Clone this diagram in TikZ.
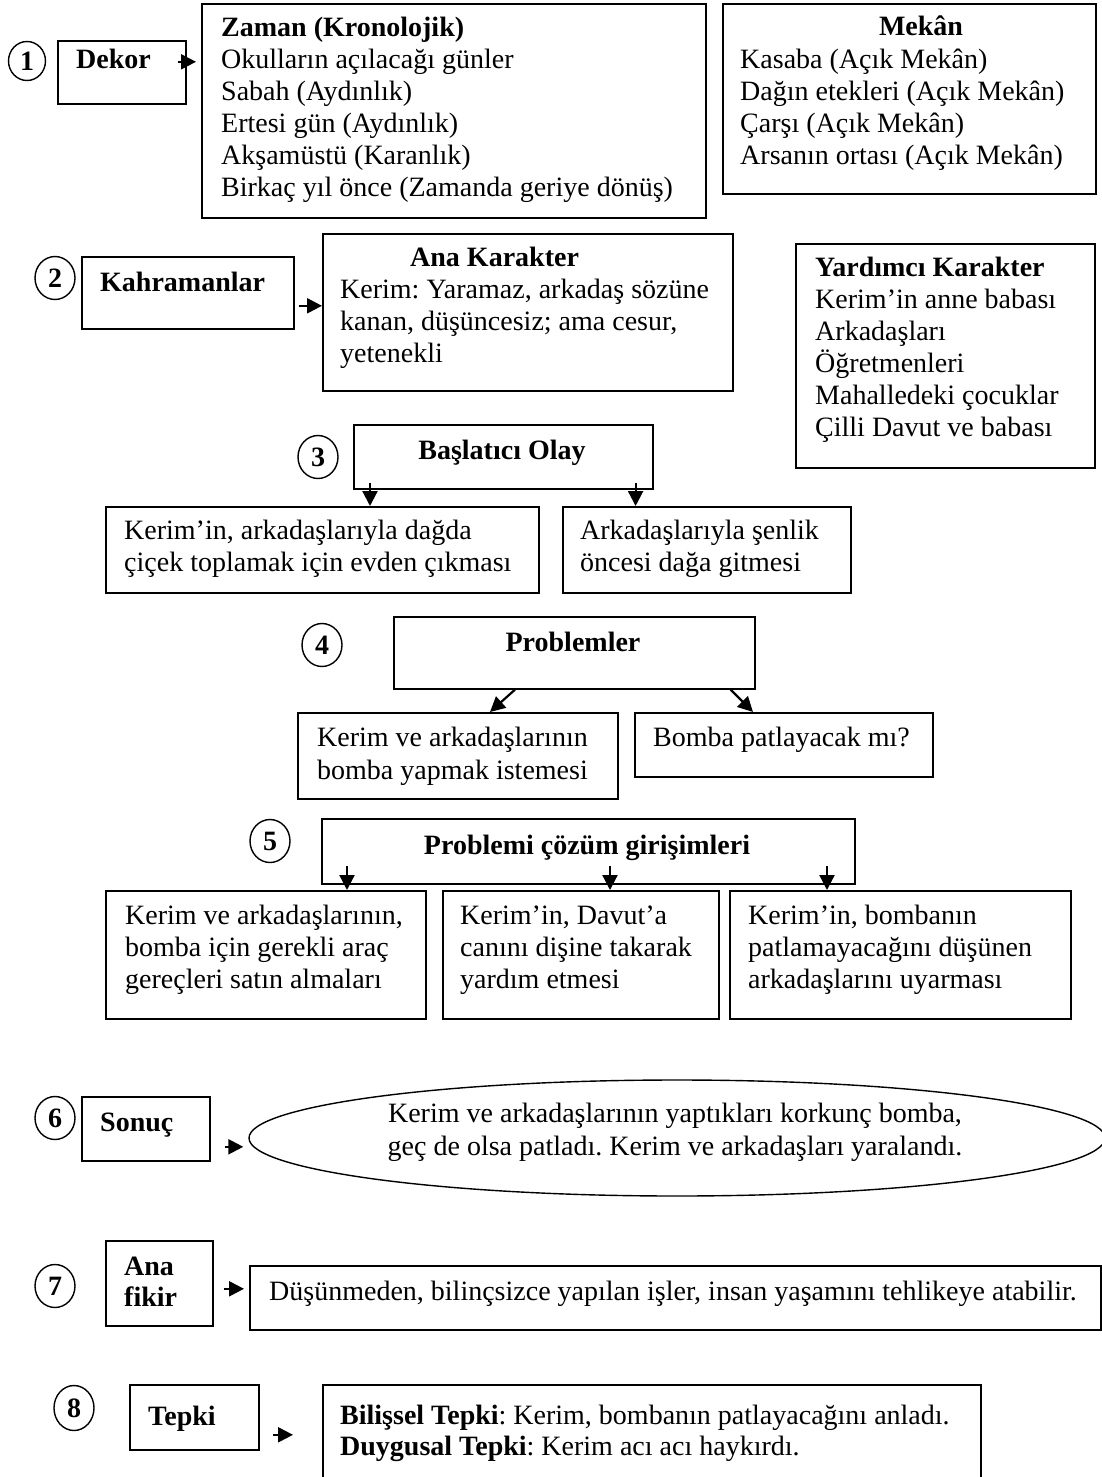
\documentclass[tikz,border=0pt]{standalone}
\usepackage{fontspec}
\setmainfont{Liberation Serif}
\usetikzlibrary{arrows.meta,shapes.geometric}
\frenchspacing
\newcommand\mybox[5]{\node[box,minimum width={#4-#2},minimum height={#5-#3}] (#1) at (#2,#3) {};}
\newcommand\mylines[5]{\foreach \t [count=\i] in {#5} {\node[txt] (#1-\i) at (#2,{#3+(\i-1)*#4}) {\t};}}
\begin{document}
\begin{tikzpicture}[x=1pt,y=-1pt,
  box/.style={draw,line width=1.6pt,inner sep=0,anchor=north west},
  txt/.style={anchor=mid west,inner sep=0,font=\fontsize{28}{32}\selectfont\frenchspacing},
  btxt/.style={anchor=mid west,inner sep=0,font=\bfseries\fontsize{28}{32}\selectfont},
  ctxt/.style={anchor=mid,inner sep=0,font=\bfseries\fontsize{28}{32}\selectfont},
  num/.style={draw,ellipse,line width=1.4pt,minimum width=40pt,minimum height=43pt,inner sep=0,font=\bfseries\fontsize{28}{32}\selectfont},
  arr/.style={line width=2.2pt,-{Triangle[length=15pt,width=15pt]}}]
\useasboundingbox (0,0) rectangle (1101,1477);
\fill[white] (0,0) rectangle (1101,1477);

% ---- 1 Dekor
\node[num,minimum width=37pt,minimum height=39pt] (c1) at (27,61) {1};
\mybox{dekor}{57}{40}{185}{103}
\node[btxt] (dekorT) at (76,66) {Dekor};
\mybox{zaman}{201}{3}{705}{217}
\mylines{zaman}{221}{34}{32}{{\textbf{Zaman (Kronolojik)}},{Okulların açılacağı günler},{Sabah (Aydınlık)},{Ertesi gün (Aydınlık)},{Akşamüstü (Karanlık)},{Birkaç yıl önce (Zamanda geriye dönüş)}}
\draw[arr] ([xshift=-9pt,yshift=10.5pt]dekor.east) -- ([xshift=-5pt,yshift=10.5pt]zaman.west |- dekor.east);
\mybox{mekan}{722}{3}{1095}{193}
\node[ctxt] (mekanT) at (921,33) {Mekân};
\mylines{mekan}{740}{66}{32}{{Kasaba (Açık Mekân)},{Dağın etekleri (Açık Mekân)},{Çarşı (Açık Mekân)},{Arsanın ortası (Açık Mekân)}}

% ---- 2 Kahramanlar
\node[num] (c2) at (55,278) {2};
\mybox{kahr}{81}{256}{293}{328}
\node[btxt] (kahrT) at (100,289) {Kahramanlar};
\mybox{ana}{322}{233}{732}{390}
\node[btxt] (anaT) at (410,264) {Ana Karakter};
\mylines{ana}{340}{296}{32}{{Kerim: Yaramaz, arkadaş sözüne},{kanan, düşüncesiz; ama cesur,},{yetenekli}}
\draw[arr] ([xshift=4pt,yshift=-13pt]kahr.east) -- ([yshift=-13pt]ana.west |- kahr.east);
\mybox{yard}{795}{243}{1094}{467}
\mylines{yard}{815}{274}{32}{{\textbf{Yardımcı Karakter}},{Kerim’in anne babası},{Arkadaşları},{Öğretmenleri},{Mahalledeki çocuklar},{Çilli Davut ve babası}}

% ---- 3 Başlatıcı Olay
\node[num] (c3) at (318,457) {3};
\mybox{bas}{353}{424}{652}{488}
\node[ctxt] (basT) at (502,457) {Başlatıcı Olay};
\mybox{bas1}{105}{506}{538}{592}
\mylines{bas1}{124}{537}{32}{{Kerim’in, arkadaşlarıyla dağda},{çiçek toplamak için evden çıkması}}
\mybox{bas2}{562}{506}{850}{592}
\mylines{bas2}{580}{537}{32}{{Arkadaşlarıyla şenlik},{öncesi dağa gitmesi}}
\draw[arr] ([xshift=17pt,yshift=7pt]bas.south west) -- ([xshift=17pt]bas.south west |- bas1.north);
\draw[arr] ([xshift=-18pt,yshift=7pt]bas.south east) -- ([xshift=-18pt]bas.south east |- bas2.north);

% ---- 4 Problemler
\node[num] (c4) at (322,645) {4};
\mybox{prob}{393}{616}{754}{688}
\node[ctxt] (probT) at (573,649) {Problemler};
\mybox{prob1}{297}{712}{617}{798}
\mylines{prob1}{317}{744}{33}{{Kerim ve arkadaşlarının},{bomba yapmak istemesi}}
\mybox{prob2}{634}{712}{932}{776}
\mylines{prob2}{653}{744}{33}{{Bomba patlayacak mı?}}
\draw[arr] ([xshift=122pt]prob.south west) -- ([xshift=193pt]prob1.north west);
\draw[arr] ([xshift=-25pt]prob.south east) -- ([xshift=119pt]prob2.north west);

% ---- 5 Problemi çözüm girişimleri
\node[num] (c5) at (270,841) {5};
\mybox{coz}{321}{818}{854}{883}
\node[ctxt] (cozT) at (587,852) {Problemi çözüm girişimleri};
\mybox{coz1}{105}{890}{425}{1018}
\mylines{coz1}{125}{922}{32}{{Kerim ve arkadaşlarının,},{bomba için gerekli araç},{gereçleri satın almaları}}
\mybox{coz2}{442}{890}{718}{1018}
\mylines{coz2}{460}{922}{32}{{Kerim’in, Davut’a},{canını dişine takarak},{yardım etmesi}}
\mybox{coz3}{729}{890}{1070}{1018}
\mylines{coz3}{748}{922}{32}{{Kerim’in, bombanın},{patlamayacağını düşünen},{arkadaşlarını uyarması}}
\draw[arr] ([xshift=26pt,yshift=19pt]coz.south west) -- ([xshift=26pt]coz.south west |- coz1.north);
\draw[arr] ([xshift=289pt,yshift=19pt]coz.south west) -- ([xshift=289pt]coz.south west |- coz2.north);
\draw[arr] ([xshift=506pt,yshift=19pt]coz.south west) -- ([xshift=506pt]coz.south west |- coz3.north);

% ---- 6 Sonuç
\node[num] (c6) at (55,1118) {6};
\mybox{sonuc}{81}{1096}{209}{1160}
\node[btxt] (sonucT) at (100,1129) {Sonuç};
\node[draw,ellipse,line width=1.4pt,minimum width=856pt,minimum height=116pt,inner sep=0] (sonucE) at (677,1138) {};
\node[anchor=mid,inner sep=0,font=\fontsize{28}{32}\selectfont] (sonucL1) at (675,1120) {Kerim ve arkadaşlarının yaptıkları korkunç bomba,};
\node[anchor=mid,inner sep=0,font=\fontsize{28}{32}\selectfont] (sonucL2) at (675,1153) {geç de olsa patladı. Kerim ve arkadaşları yaralandı.};
\draw[arr] ([xshift=14pt,yshift=-18pt]sonuc.east) -- ([xshift=-5pt,yshift=-18pt]sonucE.west |- sonuc.east);

% ---- 7 Ana fikir
\node[num] (c7) at (55,1286) {7};
\mybox{fikir}{105}{1240}{212}{1325}
\node[btxt] (fikirT1) at (124,1273) {Ana};
\node[btxt] (fikirT2) at (124,1304) {fikir};
\mybox{fikirB}{249}{1265}{1100}{1329}
\mylines{fikirB}{269}{1298}{33}{{Düşünmeden, bilinçsizce yapılan işler, insan yaşamını tehlikeye atabilir.}}
\draw[arr] ([xshift=10pt,yshift=-5.5pt]fikir.east) -- ([xshift=-5pt,yshift=-5.5pt]fikirB.west |- fikir.east);

% ---- 8 Tepki
\node[num,minimum height=45pt] (c8) at (74,1408) {8};
\mybox{tepki}{129}{1384}{258}{1449}
\node[btxt] (tepkiT) at (148,1423) {Tepki};
\mybox{tepkiB}{322}{1384}{980}{1495}
\mylines{tepkiB}{340}{1422}{31}{{\textbf{Bilişsel Tepki}: Kerim, bombanın patlayacağını anladı.},{\textbf{Duygusal Tepki}: Kerim acı acı haykırdı.}}
\draw[arr] ([xshift=13pt,yshift=-17.5pt]tepki.east) -- ([xshift=-29pt,yshift=-17.5pt]tepkiB.west |- tepki.east);
\end{tikzpicture}
\end{document}
